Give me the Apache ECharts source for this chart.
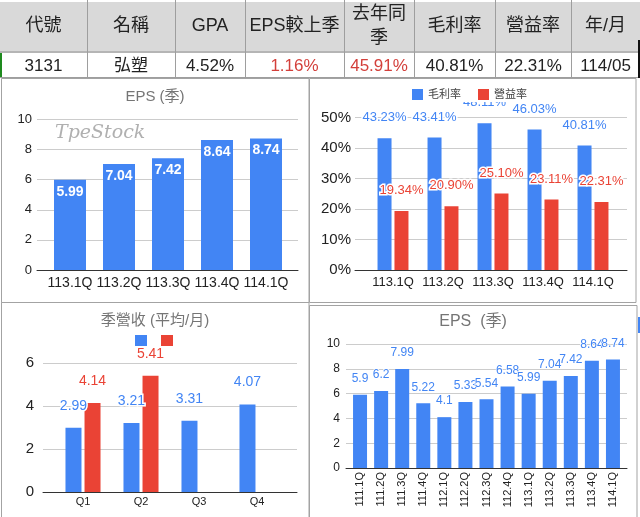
<!DOCTYPE html>
<html><head><meta charset="utf-8">
<script src="https://cdn.jsdelivr.net/npm/echarts@6/dist/echarts.min.js"></script>
<style>html,body{margin:0;padding:0;background:#fff}#c{width:640px;height:517px}</style>
</head><body><div id="c"></div>
<script>
// ---- data ----
const tableHeaders = ['代號','名稱','GPA','EPS較上季','去年同\n季','毛利率','營益率','年/月'];
const tableValues = ['3131','弘塑','4.52%','1.16%','45.91%','40.81%','22.31%','114/05'];
const recentQuarters = ['113.1Q','113.2Q','113.3Q','113.4Q','114.1Q'];
const recentEps = [5.99, 7.04, 7.42, 8.64, 8.74];
const grossMargin = [43.23, 43.41, 48.11, 46.03, 40.81];
const operatingMargin = [19.34, 20.90, 25.10, 23.11, 22.31];
const revenueQuarters = ['Q1','Q2','Q3','Q4'];
const revenuePrevYear = [2.99, 3.21, 3.31, 4.07];
const revenueThisYear = [4.14, 5.41, null, null];
const allQuarters = ['111.1Q','111.2Q','111.3Q','111.4Q','112.1Q','112.2Q','112.3Q','112.4Q','113.1Q','113.2Q','113.3Q','113.4Q','114.1Q'];
const allEps = [5.9, 6.2, 7.99, 5.22, 4.1, 5.33, 5.54, 6.58, 5.99, 7.04, 7.42, 8.64, 8.74];

// ---- layout / style ----
const FONT = '"Liberation Sans", Arial, "Noto Sans CJK TC", sans-serif';
const BLUE = '#4285F4', RED = '#EA4335';
const colEdges = [0, 87, 175, 245, 344, 414, 495, 571, 640];
const valueColors = ['#222','#222','#222','#d33f3a','#d33f3a','#222','#222','#222'];

const chart = echarts.init(document.getElementById('c'), null, {renderer: 'canvas'});

// grids: bg (gridline span) and fg (bar band)
const G = [
  {left: 37, width: 261, top: 119.5, height: 150.5},   // 0 TL bg
  {left: 45.5, width: 245, top: 119.5, height: 150.5}, // 1 TL fg
  {left: 355, width: 272, top: 117.5, height: 152.5},  // 2 TR bg
  {left: 368, width: 250, top: 117.5, height: 152.5},  // 3 TR fg
  {left: 43, width: 254, top: 363, height: 129},       // 4 BL bg
  {left: 54, width: 232, top: 363, height: 129},       // 5 BL fg
  {left: 346, width: 281, top: 344, height: 124},      // 6 BR bg
  {left: 349.5, width: 274, top: 344, height: 124}     // 7 BR fg
].map(g => Object.assign({containLabel: false, outerBoundsMode: 'none'}, g));

function bgX(i) {
  return {gridIndex: i, type: 'value', min: 0, max: 1,
    axisLabel: {show: false}, axisTick: {show: false}, splitLine: {show: false},
    axisLine: {show: true, lineStyle: {color: '#333', width: 1}}};
}
function bgY(i, max, interval, fs, margin, fmt) {
  return {gridIndex: i, type: 'value', min: 0, max: max, interval: interval,
    axisLine: {show: false}, axisTick: {show: false},
    splitLine: {show: true, lineStyle: {color: '#cccccc', width: 1}},
    axisLabel: {fontSize: fs, color: '#222', margin: margin, fontFamily: FONT, formatter: fmt || '{value}'}};
}
function fgX(i, cats, fs, margin, rotate) {
  return {gridIndex: i, type: 'category', data: cats,
    axisLine: {show: false}, axisTick: {show: false}, splitLine: {show: false},
    axisLabel: {interval: 0, fontSize: fs, color: '#222', margin: margin, rotate: rotate || 0, fontFamily: FONT}};
}
function fgY(i, max) {
  return {gridIndex: i, type: 'value', min: 0, max: max, show: false};
}
function topLabel(color, fs, dist, fmt, bw) {
  return {show: true, position: 'top', distance: dist, color: color, fontSize: fs,
    textBorderColor: '#fff', textBorderWidth: bw || 3, fontFamily: FONT, formatter: fmt};
}

// table graphics
const els = [];
els.push({type: 'rect', shape: {x: 0, y: 2, width: 640, height: 49}, style: {fill: '#d9d9d9'}});
els.push({type: 'rect', shape: {x: 0, y: 51, width: 640, height: 2}, style: {fill: '#b5b5b5'}});
els.push({type: 'rect', shape: {x: 0, y: 77, width: 640, height: 1}, style: {fill: '#9e9e9e'}});
for (let i = 1; i < colEdges.length - 1; i++) {
  els.push({type: 'line', shape: {x1: colEdges[i] + 0.5, y1: 0, x2: colEdges[i] + 0.5, y2: 77}, style: {stroke: '#9e9e9e', lineWidth: 1}});
}
els.push({type: 'rect', shape: {x: 0, y: 53, width: 2, height: 24}, style: {fill: '#1e8a1e'}});
els.push({type: 'rect', shape: {x: 638, y: 40, width: 2, height: 38}, style: {fill: '#111'}});
tableHeaders.forEach((h, i) => {
  els.push({type: 'text', style: {text: h, x: (colEdges[i] + colEdges[i + 1]) / 2, y: 26.5,
    font: '18px ' + FONT, fill: '#222', align: 'center', verticalAlign: 'middle', lineHeight: 24}});
});
tableValues.forEach((v, i) => {
  els.push({type: 'text', style: {text: v, x: (colEdges[i] + colEdges[i + 1]) / 2, y: 66,
    font: '17px ' + FONT, fill: valueColors[i], align: 'center', verticalAlign: 'middle'}});
});
// panel frames
[[1.5, 78.5, 307.5, 224], [309.5, 78.5, 326.5, 224], [1.5, 302.5, 307.5, 220], [309.5, 305.5, 327.5, 220]].forEach(r => {
  els.push({type: 'rect', shape: {x: r[0], y: r[1], width: r[2], height: r[3]}, style: {fill: 'none', stroke: '#a3a3a3', lineWidth: 1}});
});
els.push({type: 'rect', shape: {x: 638, y: 317, width: 2, height: 16}, style: {fill: BLUE}});
els.push({type: 'text', style: {text: 'TpeStock', x: 55, y: 133, font: 'italic 19px "DejaVu Serif", serif',
  fill: '#b0b0b0', align: 'left', verticalAlign: 'middle'}});

const option = {
  animation: false,
  textStyle: {fontFamily: FONT},
  title: [
    {text: 'EPS (季)', left: 155, top: 89, textAlign: 'center', padding: 0,
      textStyle: {fontSize: 15, color: '#757575', fontWeight: 'normal', fontFamily: FONT}},
    {text: '季營收 (平均/月)', left: 155, top: 313, textAlign: 'center', padding: 0,
      textStyle: {fontSize: 15, color: '#757575', fontWeight: 'normal', fontFamily: FONT}},
    {text: 'EPS  (季)', left: 473, top: 314, textAlign: 'center', padding: 0,
      textStyle: {fontSize: 16, color: '#757575', fontWeight: 'normal', fontFamily: FONT}}
  ],
  legend: [
    {data: ['毛利率', '營益率'], left: 409, top: 87, padding: [2, 3], itemWidth: 11, itemHeight: 11, itemGap: 17,
      icon: 'rect', backgroundColor: '#fff', textStyle: {fontSize: 11, color: '#444', fontFamily: FONT}},
    {data: ['113', '114'], left: 135, top: 335, padding: 0, itemWidth: 12, itemHeight: 11, itemGap: 14,
      icon: 'rect', formatter: () => '', textStyle: {fontSize: 11}}
  ],
  grid: G,
  xAxis: [bgX(0), fgX(1, recentQuarters, 14, 6), bgX(2), fgX(3, recentQuarters, 13, 6),
          bgX(4), fgX(5, revenueQuarters, 11, 4), bgX(6), fgX(7, allQuarters, 11, 4, 90)],
  yAxis: [bgY(0, 10, 2, 13, 5), fgY(1, 10), bgY(2, 50, 10, 15, 4, '{value}%'), fgY(3, 50),
          bgY(4, 6, 2, 15, 9), fgY(5, 6), bgY(6, 10, 2, 12, 6), fgY(7, 10)],
  graphic: {elements: els},
  series: [
    {type: 'bar', name: 'EPS', xAxisIndex: 1, yAxisIndex: 1, data: recentEps, barWidth: 32,
      itemStyle: {color: BLUE},
      label: {show: true, position: 'insideTop', distance: 5, color: '#fff', fontWeight: 'bold', fontSize: 14,
        formatter: p => p.value.toFixed(2)}},
    {type: 'bar', name: '毛利率', xAxisIndex: 3, yAxisIndex: 3, data: grossMargin, barWidth: 14, barGap: '21%',
      itemStyle: {color: BLUE}, label: topLabel(BLUE, 13, 14, p => p.value.toFixed(2) + '%')},
    {type: 'bar', name: '營益率', xAxisIndex: 3, yAxisIndex: 3, data: operatingMargin, barWidth: 14, barGap: '21%',
      itemStyle: {color: RED}, label: topLabel(RED, 13, 14, p => p.value.toFixed(2) + '%')},
    {type: 'bar', name: '113', xAxisIndex: 5, yAxisIndex: 5, data: revenuePrevYear, barWidth: 16, barGap: '19%',
      itemStyle: {color: BLUE}, label: topLabel(BLUE, 14, 15, p => String(p.value))},
    {type: 'bar', name: '114', xAxisIndex: 5, yAxisIndex: 5, data: revenueThisYear, barWidth: 16, barGap: '19%',
      itemStyle: {color: RED}, label: topLabel(RED, 14, 15, p => String(p.value))},
    {type: 'bar', name: 'EPS全', xAxisIndex: 7, yAxisIndex: 7, data: allEps, barWidth: 14,
      itemStyle: {color: BLUE}, label: topLabel(BLUE, 12, 10, p => String(p.value), 1.5)}
  ]
};
chart.setOption(option);
</script>
</body></html>
